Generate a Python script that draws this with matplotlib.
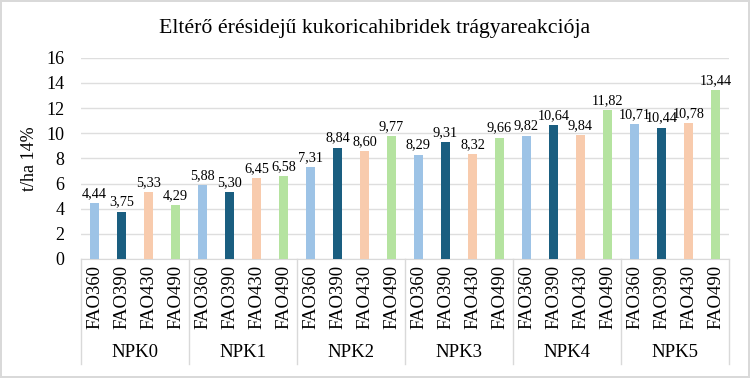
import matplotlib.pyplot as plt
from matplotlib.transforms import blended_transform_factory

# Adatok
groups = ['NPK0', 'NPK1', 'NPK2', 'NPK3', 'NPK4', 'NPK5']
hybrids = ['FAO360', 'FAO390', 'FAO430', 'FAO490']
fao360 = [4.44, 5.88, 7.31, 8.29, 9.82, 10.71]
fao390 = [3.75, 5.30, 8.84, 9.31, 10.64, 10.44]
fao430 = [5.33, 6.45, 8.60, 8.32, 9.84, 10.78]
fao490 = [4.29, 6.58, 9.77, 9.66, 11.82, 13.44]
colors = ['#9DC3E6', '#1A5E80', '#F8CBAD', '#B5E3A0']

plt.rcParams['font.family'] = 'Liberation Serif'

fig = plt.figure(figsize=(7.5, 3.78), dpi=100)
fig.patch.set_edgecolor('#D9D9D9')
fig.patch.set_linewidth(1.5)
ax = fig.add_axes([0.108, 0.315, 0.864, 0.532])

series = [fao360, fao390, fao430, fao490]
n = len(hybrids)
for j, vals in enumerate(series):
    xs = [g * n + j for g in range(len(groups))]
    ax.bar(xs, vals, width=0.3, color=colors[j], zorder=3)
    for x, v in zip(xs, vals):
        ax.text(x, v + 0.25, f'{v:.2f}'.replace('.', ','), ha='center', va='bottom',
                fontsize=10.3, zorder=4)

ax.set_xlim(-0.5, len(groups) * n - 0.5)
ax.set_ylim(0, 16)
ax.set_yticks(range(0, 17, 2))
ax.grid(axis='y', color='#DEDEDE', linewidth=1, zorder=0)
for s in ['top', 'right', 'left']:
    ax.spines[s].set_visible(False)
ax.spines['bottom'].set_color('#D9D9D9')
ax.tick_params(axis='y', length=0, pad=12, labelsize=13)
ax.set_xticks([])
ax.set_ylabel('t/ha 14%', fontsize=13, labelpad=6)

# Kétszintű x tengely
tr = blended_transform_factory(ax.transData, ax.transAxes)
for g, name in enumerate(groups):
    for j, h in enumerate(hybrids):
        ax.text(g * n + j, -0.03, h, rotation=90, ha='center', va='top',
                fontsize=13.5, transform=tr)
    ax.text(g * n + (n - 1) / 2, -0.463, name, ha='center', va='center',
            fontsize=13.5, transform=tr)
for g in range(len(groups) + 1):
    ax.plot([g * n - 0.5] * 2, [0, -0.522], color='#D9D9D9', linewidth=1,
            transform=tr, clip_on=False)

fig.text(0.5, 0.925, 'Eltérő érésidejű kukoricahibridek trágyareakciója',
         ha='center', va='center', fontsize=15.7)

plt.savefig('out.png', dpi=100, edgecolor=fig.get_edgecolor())
